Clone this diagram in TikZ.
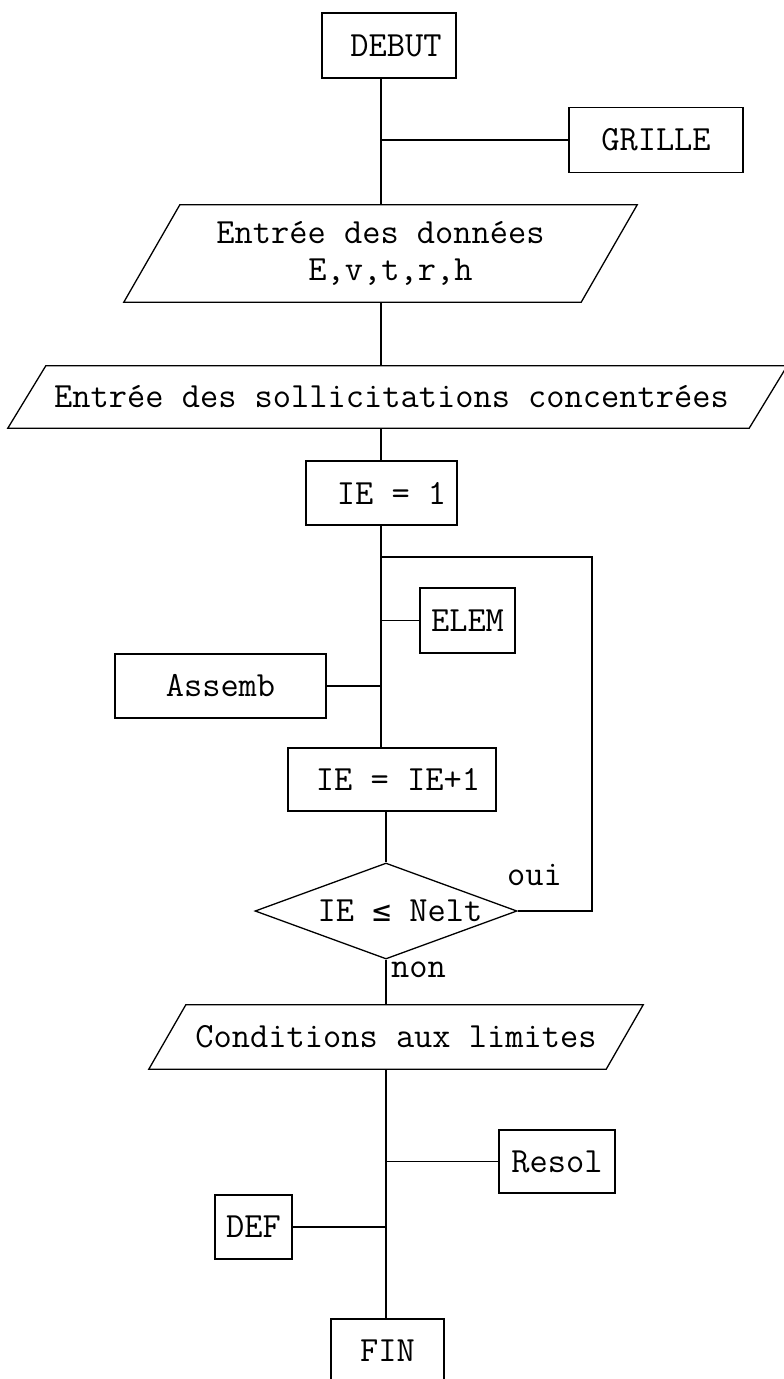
\documentclass[tikz,border=0pt]{standalone}
\usepackage{fontspec}
\newfontfamily\symfont{DejaVu Sans Mono}
\usetikzlibrary{shapes.geometric,calc}
\tikzset{
  ln/.style={line width=1.3pt},
  boxn/.style={draw, line width=1.3pt, rectangle, inner sep=0pt, anchor=center},
  paran/.style={rectangle, inner sep=0pt, align=center},
  lbl/.style={inner sep=0pt}
}
\newcommand{\drawpara}[2]{% node name, half slant
  \draw[ln] ($(#1.north west)+(#2,0)$) -- ($(#1.north east)+(#2,0)$)
    -- ($(#1.south east)-(#2,0)$) -- ($(#1.south west)-(#2,0)$) -- cycle;}
\begin{document}
\begin{tikzpicture}[x=1pt,y=-1pt,font=\ttfamily\fontsize{35.4}{37}\selectfont]
\useasboundingbox (0,0) rectangle (784,1379);
\fill[white] (0,0) rectangle (784,1379);
\clip (0,0) rectangle (784,1379);
\coordinate (spA) at (381,0);
\coordinate (spB) at (386,0);
% nodes
\node[boxn, minimum width=134pt, minimum height=65pt] (debut) at (389,45.5) {\hspace*{14pt}DEBUT};
\node[boxn, minimum width=174pt, minimum height=65pt] (grille) at (656,140) {GRILLE};
\node[paran, minimum width=457pt, minimum height=97pt] (entree) at (380.5,253.5) {Entrée des données\\\hspace*{20pt}E,v,t,r,h};
\drawpara{entree}{28}
\node[paran, minimum width=741pt, minimum height=62pt] (soll) at (397.5,397) {\hspace*{-12pt}Entrée des sollicitations concentrées};
\drawpara{soll}{19}
\node[boxn, minimum width=151pt, minimum height=64pt] (ie1) at (381.5,493) {\hspace*{20pt}IE = 1};
\node[boxn, minimum width=95pt, minimum height=65pt] (elem) at (467.5,620.5) {ELEM};
\node[boxn, minimum width=211pt, minimum height=64pt] (assemb) at (220.5,686) {Assemb};
\node[boxn, minimum width=208pt, minimum height=63pt] (ie2) at (392,779.5) {\hspace*{12pt}IE = IE+1};
\node[draw, line width=1.3pt, diamond, shape aspect=2.6, inner sep=0pt, minimum width=262pt, minimum height=96pt] (test) at (386,911) {\hspace*{28pt}IE {\symfont\fontsize{31}{37}\selectfont ≤} Nelt};
\node[lbl, anchor=west] (oui) at (507,875) {oui};
\node[lbl, anchor=west] (non) at (391,970) {non};
\node[paran, minimum width=457pt, minimum height=64pt] (cond) at (396,1037) {Conditions aux limites};
\drawpara{cond}{18.5}
\node[boxn, minimum width=116pt, minimum height=63pt] (resol) at (557,1161.5) {Resol};
\node[boxn, minimum width=77pt, minimum height=64pt] (def) at (253.5,1227) {DEF};
\node[boxn, minimum width=113pt, minimum height=64pt] (fin) at (387.5,1351) {FIN};
\coordinate (lp) at (592,557);
% connectors
\draw[ln] (debut.south -| spA) -- (entree.north -| spA);
\draw[ln] (grille.west -| spA) -- (grille.west);
\draw[ln] (entree.south -| spA) -- (soll.north -| spA);
\draw[ln] (soll.south -| spA) -- (ie1.north -| spA);
\draw[ln] (ie1.south -| spA) -- (ie2.north -| spA);
\draw[ln] (elem.west -| spA) -- (elem.west);
\draw[ln] (assemb.east) -- (assemb.east -| spA);
\draw[ln] (test.east) -| (lp) -- (lp -| spA);
\draw[ln] (ie2.south -| spB) -- (test.north);
\draw[ln] (test.south) -- (cond.north -| spB);
\draw[ln] (cond.south -| spB) -- (fin.north -| spB);
\draw[ln] (resol.west -| spB) -- (resol.west);
\draw[ln] (def.east) -- (def.east -| spB);
\end{tikzpicture}
\end{document}
